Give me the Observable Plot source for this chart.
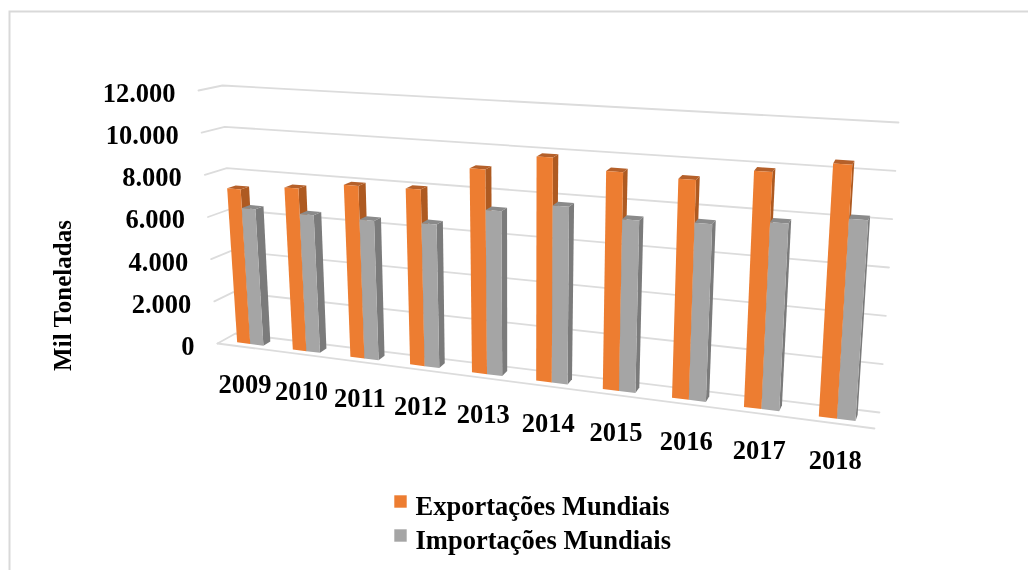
<!DOCTYPE html>
<html><head><meta charset="utf-8">
<script src="https://cdn.jsdelivr.net/npm/d3@7"></script>
<script src="https://cdn.jsdelivr.net/npm/@observablehq/plot@0.6"></script>
<style>html,body{margin:0;padding:0;background:#fff}svg{filter:blur(.45px)}</style>
</head><body><div id="chart"></div>
<script>
const years = [2009,2010,2011,2012,2013,2014,2015,2016,2017,2018];
const exportacoes = [7320,7590,7940,8000,9130,9870,9450,9340,9900,10430];
const importacoes = [6440,6400,6390,6480,7320,7770,7420,7520,7810,8210];
const ticks = [0,2000,4000,6000,8000,10000,12000];
const tickLabels = ["0","2.000","4.000","6.000","8.000","10.000","12.000"];
const seriesNames = ["Exportações Mundiais","Importações Mundiais"];
const colors = {face:["#ED7D31","#A5A5A5"], side:["#AE5A21","#7B7B7B"], top:["#B5602A","#8A8A8A"]};
const vMax = 12000;

// Perspective of the 3-D box: corners [front, back] at value 0 and value max, left and right.
const box = {
  left:  {base:[[217,343],[235,333]], top:[[198,90],[222,85]]},
  right: {base:[[874,428],[879,412]], top:[[894,131],[898,122]]}
};
const lerp = (a,b,t) => a+(b-a)*t;
const lerp2 = (p,q,t) => [lerp(p[0],q[0],t),lerp(p[1],q[1],t)];
const persp = u => 0.83*u/(1-0.17*u);
function project(u,v,d){
  const t = persp(u), f = v/vMax;
  const side = s => lerp2(lerp2(s.base[0],s.base[1],d),lerp2(s.top[0],s.top[1],d),f);
  return lerp2(side(box.left),side(box.right),t);
}
const barW = 0.0238, d1 = 0.3, d2 = 0.7;
const polys = [];
const poly = (id,fill,pts)=>pts.forEach(([x,y])=>polys.push({id,fill,x,y}));
years.forEach((yr,i)=>{
  const c = (i+0.5)/years.length;
  [exportacoes[i],importacoes[i]].forEach((v,s)=>{
    const u0 = c+(s-1)*barW, u1 = c+s*barW;
    poly(`${yr}-${s}-side`,colors.side[s],[project(u1,0,d1),project(u1,0,d2),project(u1,v,d2),project(u1,v,d1)]);
    poly(`${yr}-${s}-top`,colors.top[s],[project(u0,v,d1),project(u0,v,d2),project(u1,v,d2),project(u1,v,d1)]);
    poly(`${yr}-${s}-face`,colors.face[s],[project(u0,0,d1),project(u1,0,d1),project(u1,v,d1),project(u0,v,d1)]);
  });
});
const grid = [];
ticks.forEach(v=>{
  [project(0,v,0),project(0,v,1),project(1,v,1)].forEach(([x,y])=>grid.push({v,x,y}));
});
const floorFront = [project(0,0,0),project(1,0,0)].map(([x,y])=>({x,y}));
const serif = "'Liberation Serif','Times New Roman',serif";
const tickPos = ticks.map((v,i)=>{const [x,y]=project(0,v,0);return {x,y,label:tickLabels[i]};});
const yearPos = years.map((yr,i)=>{const [x,y]=project((i+0.5)/years.length,0,0);return {x,y,label:String(yr)};});

const plot = Plot.plot({
  width:1028,height:570,margin:0,
  x:{domain:[0,1028],range:[0,1028],axis:null},
  y:{domain:[0,570],range:[0,570],axis:null},
  color:{type:"identity"},
  style:{background:"#fff",fontFamily:serif},
  marks:[
    Plot.frame({stroke:"#D9D9D9",strokeWidth:2,insetLeft:9,insetTop:11,insetRight:-5,insetBottom:-5}),
    Plot.line(grid,{x:"x",y:"y",z:"v",stroke:"#DCDCDC",strokeWidth:1.8}),
    Plot.line(floorFront,{x:"x",y:"y",stroke:"#DCDCDC",strokeWidth:1.8}),
    Plot.line(polys,{x:"x",y:"y",z:"id",fill:"fill",stroke:"none",curve:"linear-closed"}),
    Plot.text(tickPos,{x:"x",y:"y",text:"label",textAnchor:"end",dx:-23,dy:3,fontSize:26.5,fontWeight:"bold",fill:"#000"}),
    Plot.text(yearPos,{x:"x",y:"y",text:"label",dy:37,fontSize:26.5,fontWeight:"bold",fill:"#000"}),
    Plot.text(["Mil Toneladas"],{frameAnchor:"top-left",textAnchor:"middle",lineAnchor:"middle",dx:62,dy:295,rotate:-90,fontSize:25,fontWeight:"bold",fill:"#000"}),
    Plot.dot([seriesNames[0]],{frameAnchor:"top-left",dx:400,dy:501,symbol:"square",r:7,fill:colors.face[0],stroke:"none"}),
    Plot.dot([seriesNames[1]],{frameAnchor:"top-left",dx:400,dy:535,symbol:"square",r:7,fill:colors.face[1],stroke:"none"}),
    Plot.text([seriesNames[0]],{frameAnchor:"top-left",textAnchor:"start",lineAnchor:"middle",dx:415,dy:506,fontSize:26.5,fontWeight:"bold",fill:"#000"}),
    Plot.text([seriesNames[1]],{frameAnchor:"top-left",textAnchor:"start",lineAnchor:"middle",dx:415,dy:540,fontSize:26.5,fontWeight:"bold",fill:"#000"})
  ]
});
document.getElementById("chart").append(plot);
</script></body></html>
